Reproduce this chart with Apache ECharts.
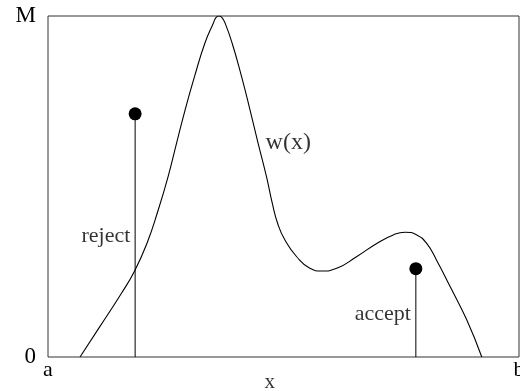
<!DOCTYPE html>
<html>
<head>
<meta charset="utf-8">
<script src="https://cdn.jsdelivr.net/npm/echarts@6/dist/echarts.min.js"></script>
<style>
  html, body { margin: 0; padding: 0; background: #fff; }
  #chart { width: 520px; height: 391px; }
</style>
</head>
<body>
<div id="chart"></div>
<script>
// Density w(x) on [a, b], scaled so its maximum is M (x and y on a 0..100 scale)
const curveX = [6.8, 11.0, 15.6, 18.3, 21.0, 23.4, 25.5, 27.3, 29.1, 31.1, 33.3, 35.1, 35.7, 36.3, 36.9, 37.6, 39.1, 41.1, 42.9, 44.6, 46.4, 47.6, 48.8, 50.3, 52.8, 55.6, 58.1, 61.3, 65.5, 69.8, 73.3, 75.8, 78.3, 80.4, 82.5, 85.4, 88.9, 92.1];
const curveY = [0, 8.9, 18.7, 25.0, 33.3, 43.1, 52.9, 62.7, 72.4, 82.2, 92.0, 97.9, 99.6, 100, 99.6, 97.9, 92.0, 82.2, 72.4, 62.7, 52.8, 45.2, 39.0, 34.3, 29.4, 26.0, 25.2, 26.0, 29.4, 33.3, 35.8, 36.6, 35.8, 33.3, 28.4, 20.6, 10.9, 0];

// Sampled points (x, u) for the rejection test
const sampleX = [18.5, 78.1];
const sampleY = [71.3, 25.9];

// Annotation text anchored in data space (the axis variable sits below the frame)
const noteText = ['w(x)', 'reject', 'accept', 'x'];
const noteX = [51.0, 12.3, 71.1, 47.1];
const noteY = [62.8, 35.5, 12.6, -7.6];
const noteSize = [24, 22, 22, 21];

// Axis end labels
const xTickValues = [0, 100];
const xTickLabels = ['a', 'b'];
const yTickLabels = ['0', 'M'];

const FONT = '"Liberation Serif", "Times New Roman", serif';

const chart = echarts.init(document.getElementById('chart'), null, { renderer: 'canvas' });

chart.setOption({
  animation: false,
  grid: {
    left: 48, right: 1, top: 16, bottom: 34,
    outerBoundsMode: 'none',
    show: true, borderColor: '#333', borderWidth: 1, backgroundColor: '#fff'
  },
  xAxis: {
    type: 'value', min: 0, max: 100, interval: 100,
    axisLine: { show: false }, axisTick: { show: false }, splitLine: { show: false },
    axisLabel: {
      fontFamily: FONT, fontSize: 22, color: '#000', margin: 2,
      formatter: v => xTickLabels[xTickValues.indexOf(v)] ?? ''
    }
  },
  yAxis: {
    type: 'value', min: 0, max: 100, interval: 100,
    axisLine: { show: false }, axisTick: { show: false }, splitLine: { show: false },
    axisLabel: {
      fontFamily: FONT, fontSize: 23, color: '#000', margin: 12,
      formatter: v => (v === 0 ? yTickLabels[0] : yTickLabels[1])
    }
  },
  series: [
    {
      type: 'line',
      data: curveX.map((x, i) => [x, curveY[i]]),
      smooth: 0.5,
      symbol: 'none',
      lineStyle: { color: '#000', width: 1.1 },
      z: 3
    },
    {
      type: 'custom',
      data: sampleX.map((x, i) => [x, sampleY[i]]),
      renderItem: (params, api) => {
        const base = api.coord([api.value(0), 0]);
        const top = api.coord([api.value(0), api.value(1)]);
        return {
          type: 'group',
          children: [
            { type: 'line', shape: { x1: base[0], y1: base[1], x2: top[0], y2: top[1] },
              style: { stroke: '#000', lineWidth: 1 } },
            { type: 'circle', shape: { cx: top[0], cy: top[1], r: 6.5 },
              style: { fill: '#000' } }
          ]
        };
      },
      z: 4
    },
    {
      type: 'scatter',
      clip: false,
      data: noteX.map((x, i) => ({
        value: [x, noteY[i]], name: noteText[i],
        label: { fontSize: noteSize[i] }
      })),
      symbolSize: 0,
      label: {
        show: true, position: 'inside', formatter: p => p.name,
        fontFamily: FONT, color: '#000'
      },
      z: 5
    }
  ]
});
</script>
</body>
</html>
